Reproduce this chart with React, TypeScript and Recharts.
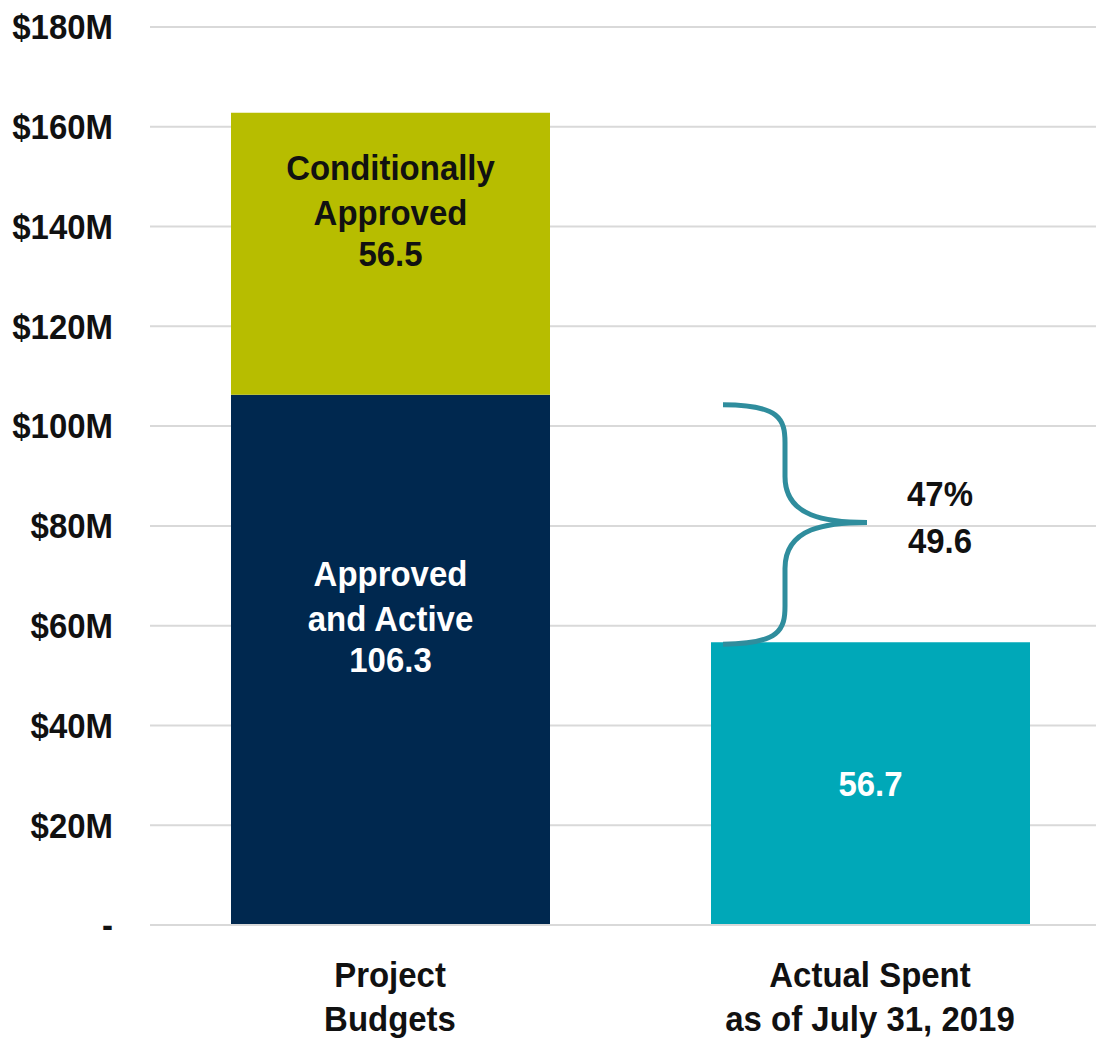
import React from 'react';
import { BarChart, Bar, XAxis, YAxis, CartesianGrid, LabelList, ReferenceLine } from 'recharts';

const categories = ['Project Budgets', 'Actual Spent as of July 31, 2019'];
const categoryLines = [['Project', 'Budgets'], ['Actual Spent', 'as of July 31, 2019']];
const approvedActive = [106.3, null];
const conditionallyApproved = [56.5, null];
const actualSpent = [null, 56.7];
const yTicks = [0, 20, 40, 60, 80, 100, 120, 140, 160, 180];
const gapPercent = '47%';
const gapValue = 49.6;

const FONT = '"Liberation Sans", Arial, sans-serif';
const SX = 1.03;
const SY = 1.12;

// Text with a slight vertical stretch to mimic the condensed-tall face of the original
const SText = ({ x, y, anchor = 'middle', color = '#111', children }: any) => (
  <g transform={`translate(${x},${y}) scale(${SX},${SY})`}>
    <text x={0} y={0} dy={11} textAnchor={anchor} fontFamily={FONT} fontWeight="bold" fontSize={32} fill={color}>
      {children}
    </text>
  </g>
);

const data = categories.map((c, i) => ({
  name: c,
  approved: approvedActive[i],
  conditional: conditionallyApproved[i],
  spent: actualSpent[i],
}));

const YTick = (props: any) => {
  const { x, y, payload } = props;
  const v = payload.value;
  const label = v === 0 ? '-' : `$${v}M`;
  return <SText x={x - 37} y={y} anchor="end">{label}</SText>;
};

const XTick = (props: any) => {
  const { x, y, payload } = props;
  const idx = categories.indexOf(payload.value);
  const lines = categoryLines[idx] || [payload.value];
  return (
    <g>
      {lines.map((l, i) => (
        <SText key={i} x={x} y={y + 50 + i * 44}>{l}</SText>
      ))}
    </g>
  );
};

const makeLabel = (titles: string[], color: string) => (props: any) => {
  const { x, y, width, height, value } = props;
  if (value == null) return null;
  const cx = x + width / 2;
  const cy = y + height / 2;
  const offsets = titles.length === 2 ? [-86, -41] : [];
  return (
    <g>
      {titles.map((t, i) => (
        <SText key={i} x={cx} y={cy + offsets[i]} color={color}>{t}</SText>
      ))}
      <SText x={cx} y={cy} color={color}>{value}</SText>
    </g>
  );
};

const BraceShape = (props: any) => {
  const { x1, y1, y2 } = props;
  if (x1 == null || y1 == null || y2 == null) return null;
  const top = Math.min(y1, y2) + 10;
  const bot = Math.max(y1, y2) + 2;
  const mid = (top + bot) / 2 - 2;
  const left = x1 - 147;
  const spine = left + 62;
  const tip = left + 144;
  const r = 38;
  const d = [
    `M ${left} ${top}`,
    `C ${spine - 5} ${top} ${spine} ${top + 15} ${spine} ${top + r}`,
    `L ${spine} ${mid - r - 8}`,
    `C ${spine} ${mid - 5} ${tip - 40} ${mid} ${tip} ${mid}`,
    `C ${tip - 40} ${mid} ${spine} ${mid + 5} ${spine} ${mid + r + 8}`,
    `L ${spine} ${bot - r}`,
    `C ${spine} ${bot - 15} ${spine - 5} ${bot} ${left} ${bot}`,
  ].join(' ');
  return (
    <g>
      <path d={d} fill="none" stroke="#2f8d9d" strokeWidth={5} />
      <SText x={tip + 73} y={mid - 29}>{gapPercent}</SText>
      <SText x={tip + 73} y={mid + 18}>{gapValue}</SText>
    </g>
  );
};

export default function App() {
  const topApproved = approvedActive[0] as number;
  const spentVal = actualSpent[1] as number;
  return (
    <div style={{ position: 'absolute', left: 0, top: 0, width: 1096, height: 1039, overflow: 'hidden', background: '#fff' }}>
      <BarChart
        width={1110}
        height={1039}
        data={data}
        margin={{ top: 27, right: 0, bottom: 0, left: 0 }}
        barSize={319}
      >
        <CartesianGrid vertical={false} stroke="#d9d9d9" strokeWidth={2} />
        <XAxis
          dataKey="name"
          tick={<XTick />}
          tickLine={false}
          axisLine={{ stroke: '#d9d9d9', strokeWidth: 2 }}
          tickSize={0}
          tickMargin={0}
          height={114}
          interval={0}
        />
        <YAxis
          type="number"
          domain={[0, 180]}
          ticks={yTicks}
          tick={<YTick />}
          tickLine={false}
          axisLine={false}
          tickSize={0}
          tickMargin={0}
          width={150}
          interval={0}
        />
        <Bar dataKey="approved" stackId="a" fill="#00284f" isAnimationActive={false}>
          <LabelList dataKey="approved" content={makeLabel(['Approved', 'and Active'], '#ffffff')} />
        </Bar>
        <Bar dataKey="conditional" stackId="a" fill="#b7bd00" isAnimationActive={false}>
          <LabelList dataKey="conditional" content={makeLabel(['Conditionally', 'Approved'], '#111111')} />
        </Bar>
        <Bar dataKey="spent" stackId="a" fill="#00a8b8" isAnimationActive={false}>
          <LabelList dataKey="spent" content={makeLabel([], '#ffffff')} />
        </Bar>
        <ReferenceLine
          segment={[
            { x: categories[1], y: topApproved },
            { x: categories[1], y: spentVal },
          ]}
          shape={<BraceShape />}
          ifOverflow="visible"
        />
      </BarChart>
    </div>
  );
}
